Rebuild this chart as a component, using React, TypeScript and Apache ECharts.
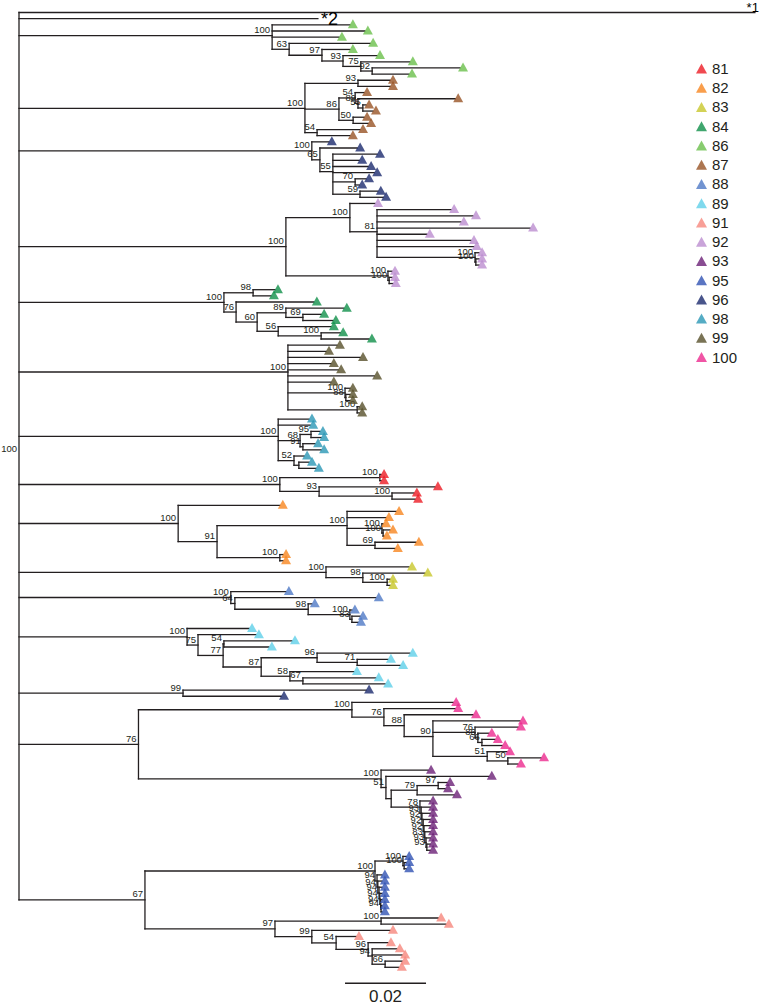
import React, { useEffect, useRef } from "react";
import * as echarts from "echarts";

// Branch positions are distances from the root in units of 0.001 substitutions/site.
// Internal node: [x, support, children]; leaf: end x; {g, t}: colour group of a subtree.
const UNIT = 0.001;

const clade86 = [62.5, 100, [
  81.7, 85.4, 79.0,
  [66.7, 63, [
    86.7,
    [74.8, 97, [
      81.7,
      [80.0, 93, [
        88.4,
        [84.4, 75, [96.5, [87.2, 92, [108.9, 96.3]]]],
      ]],
    ]],
  ]],
]];

const clade87 = [70.6, 100, [
  [83.7, 93, [91.6, 91.6]],
  [79.0, 86, [
    [83.0, 54, [85.2, [83.7, 89, [107.7, [84.9, 55, [85.7, 87.4]]]]]],
    [82.5, 50, [85.2, 86.2]],
  ]],
  [73.6, 54, [84.2, 81.7]],
]];

const clade96a = [72.3, 100, [
  76.5,
  [74.3, 65, [
    83.5,
    [77.5, 55, [
      88.4, 84.0, 86.2, 87.7,
      [83.0, 70, [85.7, 84.0]],
      [84.2, 59, [88.6, 89.9]],
    ]],
  ]],
]];

const clade92 = [65.9, 100, [
  [81.7, 100, [
    87.9,
    [88.4, 81, [
      106.7, 112.1, 109.1, 126.2, 100.7, 111.6, 112.3,
      [112.6, 100, [113.6, [112.8, 100, [113.6, 113.6]]]],
    ]],
  ]],
  [91.1, 100, [92.1, [91.4, 100, [92.1, 92.3]]]],
]];

const clade84 = [50.6, 100, [
  [57.8, 98, [63.2, 62.2]],
  [53.6, 76, [
    72.8,
    [58.8, 60, [
      [65.9, 89, [80.2, [70.1, 69, [74.6, 77.5]]]],
      [64.0, 56, [77.0, [74.6, 100, [79.3, 86.4]]]],
    ]],
  ]],
]];

const clade99 = [66.4, 100, [
  78.5, 75.8, 84.2, 77.0, 78.8, 87.7, 77.0,
  [80.5, 100, [81.7, [80.7, 88, [81.7, 81.7]]]],
  [83.5, 100, [84.0, 84.0]],
]];

const clade98 = [64.0, 100, [
  71.6, 71.9,
  [69.4, 68, [[72.1, 95, [74.3, 74.6]], [70.1, 91, [73.1, 74.6]]]],
  [67.9, 52, [70.4, [69.1, null, [71.6, 73.3]]]],
]];

const clade81 = [64.4, 100, [
  [89.1, 100, [89.4, 89.4]],
  [74.1, 93, [102.7, [92.1, 100, [97.5, 97.8]]]],
]];

const clade82 = [39.3, 100, [
  64.4,
  [48.9, 91, [
    [81.0, 100, [
      93.1, 90.6,
      [89.6, 100, [89.9, [89.9, 100, [91.6, 90.1]]]],
      [87.9, 69, [98.0, 92.8]],
    ]],
    [64.4, 100, [65.2, 65.2]],
  ]],
]];

const clade83 = [75.8, 100, [96.3, [84.9, 98, [100.2, [90.9, 100, [91.6, 91.6]]]]]];

const clade88 = [52.3, 100, [65.9, [53.3, 64, [88.1, [71.4, 98, [72.3, [81.7, 100, [82.2, [82.2, 83, [84.2, 83.7]]]]]]]]]];

const clade89 = [41.5, 100, [
  56.8,
  [44.2, 75, [
    58.5,
    [50.4, 77, [
      [50.6, 54, [67.4, 61.7]],
      [59.8, 87, [
        [73.6, 96, [96.5, [83.5, 71, [91.1, 94.1]]]],
        [66.9, 58, [82.7, [70.1, 67, [88.1, 90.4]]]],
      ]],
    ]],
  ]],
]];

const clade96b = [40.5, 99, [85.7, 64.7]];

const clade100 = [82.2, 100, [
  107.2,
  [90.1, 76, [
    107.7,
    [95.1, 88, [
      112.1,
      [102.2, 90, [
        123.7,
        [112.6, 76, [123.2, [113.3, 86, [116.0, [114.3, 66, [117.5, 119.3]]]]]],
        [115.6, 51, [120.5, [120.7, 50, [128.9, 123.2]]]],
      ]],
    ]],
  ]],
]];

const ladder93X = [99.0, 99.3, 99.5, 99.8, 100.0, 100.2, 100.5, 100.7];
const ladder93Support = [78, 93, 92, 92, 92, 83, 93, 93];
const ladder93Leaves = [101.5, 101.5, 101.5, 101.5, 101.5, 101.5, 101.5, 101.5, 101.5];

const ladder95X = [88.4, 88.6, 88.9, 89.1, 89.3, 89.4];
const ladder95Support = [94, 94, 94, 94, 94, 94];
const ladder95Leaves = [89.6, 89.6, 89.6, 89.6, 89.6, 89.6, 89.6];

function ladder(xs: number[], sups: number[], leaves: number[]): any {
  const n = xs.length;
  let node: any = [xs[n - 1], sups[n - 1], [leaves[n - 1], leaves[n]]];
  for (let i = n - 2; i >= 0; i--) node = [xs[i], sups[i], [leaves[i], node]];
  return node;
}

const clade93 = [89.4, 100, [
  101.0,
  [90.6, 51, [
    116.0,
    [91.9, null, [
      [98.3, 79, [[103.5, 97, [105.7, 105.2]], 107.4]],
      ladder(ladder93X, ladder93Support, ladder93Leaves),
    ]],
  ]],
]];

const clade95 = [87.9, 100, [
  [94.8, 100, [95.6, [95.1, 100, [95.6, 95.6]]]],
  ladder(ladder95X, ladder95Support, ladder95Leaves),
]];

const clade91 = [63.2, 97, [
  [89.4, 100, [103.5, 105.4]],
  [72.3, 99, [
    91.6,
    [78.3, 54, [
      83.2,
      [86.2, 96, [91.1, [87.2, 94, [93.3, 94.6, [90.4, 66, [94.6, 93.8]]]]]],
    ]],
  ]],
]];

const rootSupport = 100;
const rootChildren = [
  { tip: "*1", x: 181.7 },
  { tip: "*2", x: 73.8 },
  { g: "86", t: clade86 },
  { g: "87", t: clade87 },
  { g: "96", t: clade96a },
  { g: "92", t: clade92 },
  { g: "84", t: clade84 },
  { g: "99", t: clade99 },
  { g: "98", t: clade98 },
  { g: "81", t: clade81 },
  { g: "82", t: clade82 },
  { g: "83", t: clade83 },
  { g: "88", t: clade88 },
  { g: "89", t: clade89 },
  { g: "96", t: clade96b },
  [29.5, 76, [{ g: "100", t: clade100 }, { g: "93", t: clade93 }]],
  [31.1, 67, [{ g: "95", t: clade95 }, { g: "91", t: clade91 }]],
];

const legendGroups = ["81", "82", "83", "84", "86", "87", "88", "89", "91", "92", "93", "95", "96", "98", "99", "100"];
const scaleBarLength = 0.02;

// ---- styling / layout (not data) ----
const COLORS: Record<string, string> = {
  "81": "#ec1c24", "82": "#f7861f", "83": "#c8c72c", "84": "#10904a",
  "86": "#6abf4b", "87": "#995426", "88": "#4f79c6", "89": "#5fd0e8",
  "91": "#f6877d", "92": "#bc8dd0", "93": "#6b2177", "95": "#3152b3",
  "96": "#1c2a6e", "98": "#2a97b5", "99": "#57502a", "100": "#ec2a8f",
};
const W = 760, H = 1007;
const GRID_LEFT = 19, GRID_RIGHT = 5, GRID_TOP = 12.5;
const ROW_PITCH = 6.16;
const PX_PER_DIST = 4050;
const SCALE_BAR_X = 0.0805;
const SCALE_BAR_ROW = 157.6;
const INK = "#231f20";
const FONT = "Liberation Sans, Arial, sans-serif";

type TNode = { x: number; y: number; sup: number | null; kids: TNode[]; group: string | null; tip?: string };

function layoutTree() {
  let leaf = 0;
  const rec = (s: any, g: string | null): TNode => {
    if (typeof s === "number") return { x: s * UNIT, y: leaf++, sup: null, kids: [], group: g };
    if (Array.isArray(s)) {
      const kids = (s[2] as any[]).map((k) => rec(k, g));
      const y = kids.reduce((a, k) => a + k.y, 0) / kids.length;
      return { x: s[0] * UNIT, y, sup: s[1], kids, group: g };
    }
    if (s.t !== undefined) return rec(s.t, s.g);
    return { x: s.x * UNIT, y: leaf++, sup: null, kids: [], group: null, tip: s.tip };
  };
  const root = rec([0, rootSupport, rootChildren], null);
  const segs: number[][] = [];
  const sups: { x: number; y: number; text: string; root: boolean }[] = [];
  const tips: { x: number; y: number; text: string }[] = [];
  const leaves: Record<string, number[][]> = {};
  legendGroups.forEach((g) => (leaves[g] = []));
  const walk = (n: TNode, px?: number) => {
    if (px !== undefined) segs.push([px, n.y, n.x, n.y]);
    if (n.kids.length) {
      const ys = n.kids.map((k) => k.y);
      const lo = Math.min(...ys), hi = Math.max(...ys);
      segs.push([n.x, lo, n.x, hi]);
      if (n.sup != null) {
        if (px === undefined) sups.push({ x: n.x, y: (lo + hi) / 2, text: String(n.sup), root: true });
        else sups.push({ x: n.x, y: n.y, text: String(n.sup), root: false });
      }
      n.kids.forEach((k) => walk(k, n.x));
    } else if (n.tip) {
      tips.push({ x: n.x, y: n.y, text: n.tip });
    } else if (n.group) {
      leaves[n.group].push([n.x, n.y]);
    }
  };
  walk(root);
  return { segs, sups, tips, leaves, nLeaves: leaf };
}

export default function App() {
  const ref = useRef<HTMLDivElement>(null);
  useEffect(() => {
    if (!ref.current) return;
    const chart = echarts.init(ref.current, null, { renderer: "svg" });
    const { segs, sups, tips, leaves, nLeaves } = layoutTree();
    const maxRow = nLeaves - 1;
    const gridBottom = H - GRID_TOP - ROW_PITCH * maxRow;
    const xMax = (W - GRID_LEFT - GRID_RIGHT) / PX_PER_DIST;

    const series: any[] = [
      {
        type: "custom",
        name: "branches",
        silent: true,
        clip: false,
        z: 1,
        data: segs,
        encode: { x: [0, 2], y: [1, 3] },
        renderItem: (_p: any, api: any) => {
          const a = api.coord([api.value(0), api.value(1)]);
          const b = api.coord([api.value(2), api.value(3)]);
          return {
            type: "line",
            shape: { x1: a[0], y1: a[1], x2: b[0], y2: b[1] },
            style: { stroke: INK, lineWidth: 1.3, lineCap: "square" },
          };
        },
      },
      {
        type: "custom",
        name: "supports",
        silent: true,
        clip: false,
        z: 2,
        data: sups.map((s) => [s.x, s.y]),
        encode: { x: 0, y: 1 },
        renderItem: (p: any, api: any) => {
          const s = sups[p.dataIndex];
          const c = api.coord([api.value(0), api.value(1)]);
          return {
            type: "text",
            x: c[0] - 2,
            y: s.root ? c[1] - 8 : c[1] - 1,
            style: {
              text: s.text,
              fill: INK,
              fontSize: 9.5,
              fontFamily: FONT,
              align: "right",
              verticalAlign: s.root ? "middle" : "bottom",
            },
          };
        },
      },
      {
        type: "custom",
        name: "tips",
        silent: true,
        clip: false,
        z: 2,
        data: tips.map((t) => [t.x, t.y]),
        encode: { x: 0, y: 1 },
        renderItem: (p: any, api: any) => {
          const t = tips[p.dataIndex];
          const c = api.coord([api.value(0), api.value(1)]);
          const above = p.dataIndex === 0;
          return {
            type: "text",
            x: above ? c[0] + 4 : c[0] + 3,
            y: above ? c[1] + 1 : c[1],
            style: {
              text: t.text,
              fill: "#000",
              fontSize: above ? 13 : 18,
              fontFamily: FONT,
              align: above ? "right" : "left",
              verticalAlign: above ? "bottom" : "middle",
            },
          };
        },
      },
      {
        type: "custom",
        name: "scalebar",
        silent: true,
        clip: false,
        z: 2,
        data: [[SCALE_BAR_X, SCALE_BAR_ROW, SCALE_BAR_X + scaleBarLength]],
        encode: { x: [0, 2], y: 1 },
        renderItem: (_p: any, api: any) => {
          const a = api.coord([api.value(0), api.value(1)]);
          const b = api.coord([api.value(2), api.value(1)]);
          return {
            type: "group",
            children: [
              { type: "line", shape: { x1: a[0], y1: a[1], x2: b[0], y2: b[1] }, style: { stroke: INK, lineWidth: 1.5 } },
              {
                type: "text",
                x: (a[0] + b[0]) / 2,
                y: a[1] + 22,
                style: { text: String(scaleBarLength), fill: INK, fontSize: 17, fontFamily: FONT, align: "center", verticalAlign: "bottom" },
              },
            ],
          };
        },
      },
    ];

    legendGroups.forEach((g) => {
      series.push({
        type: "scatter",
        name: g,
        z: 3,
        symbol: "triangle",
        symbolSize: [10, 9],
        symbolOffset: [3, -1],
        itemStyle: { color: COLORS[g] },
        data: leaves[g],
        silent: true,
      });
    });

    chart.setOption({
      animation: false,
      grid: { left: GRID_LEFT, right: GRID_RIGHT, top: GRID_TOP, bottom: gridBottom, containLabel: false },
      xAxis: { type: "value", min: 0, max: xMax, show: false },
      yAxis: { type: "value", min: 0, max: maxRow, inverse: true, show: false },
      legend: {
        data: legendGroups,
        orient: "vertical",
        left: 691,
        top: 56,
        icon: "triangle",
        itemWidth: 11,
        itemHeight: 10,
        itemGap: 4.24,
        selectedMode: false,
        textStyle: { fontSize: 15, lineHeight: 14, fontFamily: FONT, color: INK },
      },
      series,
    });
    return () => chart.dispose();
  }, []);
  return <div ref={ref} style={{ position: "absolute", left: 0, top: 0, width: W, height: H }} />;
}
